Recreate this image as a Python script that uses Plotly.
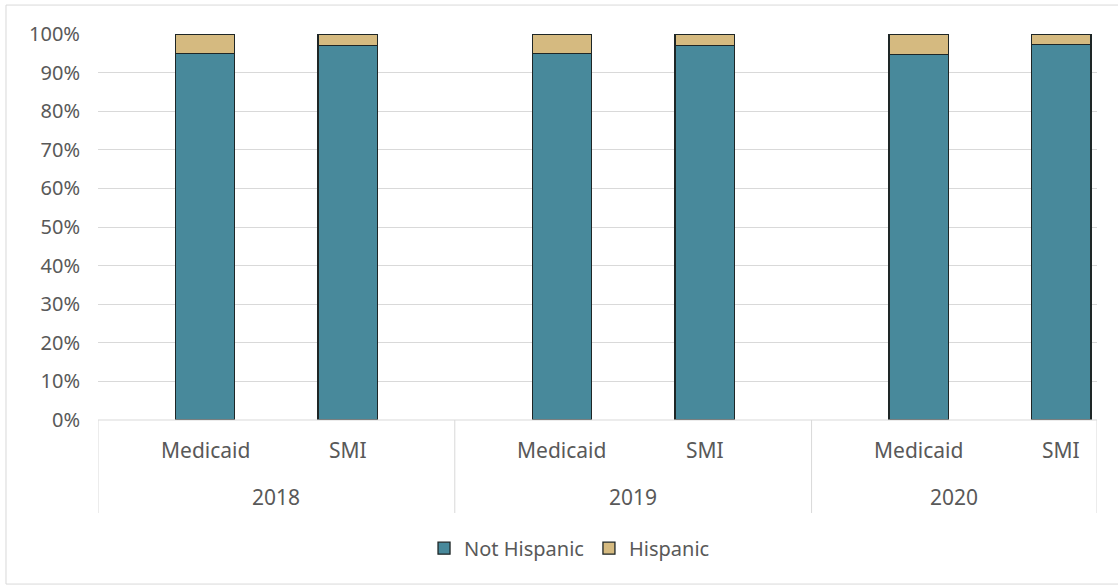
import plotly.graph_objects as go

years = ["2018", "2019", "2020"]
groups = ["Medicaid", "SMI"]
not_hispanic = [0.950, 0.971, 0.950, 0.971, 0.946, 0.972]
hispanic = [round(1 - v, 3) for v in not_hispanic]
y_ticks = [i / 10 for i in range(11)]
y_labels = [f"{i*10}%" for i in range(11)]

# slot layout: each year group = blank, Medicaid, blank, SMI, blank (last group has no trailing blank)
slots_per_group = 5
xpos = []
for gi, yr in enumerate(years):
    for ci, g in enumerate(groups):
        xpos.append(gi * slots_per_group + 1.5 + 2 * ci)
x_max = len(years) * slots_per_group - 1

teal = "#48899B"
tan = "#D5BA80"
edge = "#1E2626"
txt = "#595959"
font_family = "Noto Sans, Open Sans, sans-serif"
fs = 20

fig = go.Figure()
fig.add_trace(go.Bar(x=xpos, y=not_hispanic, name="Not Hispanic", width=0.83,
                     marker=dict(color=teal, line=dict(color=edge, width=1.3))))
fig.add_trace(go.Bar(x=xpos, y=hispanic, name="Hispanic", width=0.83,
                     marker=dict(color=tan, line=dict(color=edge, width=1.3))))

annotations = []
for i, x in enumerate(xpos):
    annotations.append(dict(x=x, y=-0.078, xref="x", yref="paper", text=groups[i % 2],
                            yanchor="middle", xanchor="center",
                            showarrow=False, font=dict(size=21, color=txt, family=font_family)))
for gi, yr in enumerate(years):
    x0 = gi * slots_per_group
    x1 = min((gi + 1) * slots_per_group, x_max)
    annotations.append(dict(x=(x0 + x1) / 2, y=-0.199, xref="x", yref="paper", text=yr,
                            yanchor="middle", xanchor="center",
                            showarrow=False, font=dict(size=21, color=txt, family=font_family)))

shapes = []
for xv in [0, 5, 10, x_max]:
    shapes.append(dict(type="line", xref="x", yref="paper", x0=xv, x1=xv, y0=0, y1=-0.241,
                       line=dict(color="#D9D9D9", width=1)))
shapes.append(dict(type="line", xref="x", yref="paper", x0=0, x1=x_max, y0=0, y1=0,
                   line=dict(color="#D9D9D9", width=1)))
shapes.append(dict(type="rect", xref="paper", yref="paper", x0=-0.0921, x1=1.04, y0=-0.425, y1=1.075,
                   line=dict(color="#D9D9D9", width=1)))

fig.update_layout(
    barmode="stack",
    width=1118, height=586,
    margin=dict(l=98, r=21, t=34, b=166),
    plot_bgcolor="white", paper_bgcolor="white",
    font=dict(family=font_family, color=txt, size=fs),
    xaxis=dict(range=[0, x_max], showticklabels=False, showgrid=False, zeroline=False, ticks=""),
    yaxis=dict(range=[0, 1], tickvals=y_ticks, ticktext=y_labels, showgrid=True,
               gridcolor="#D9D9D9", gridwidth=1, zeroline=False, ticks="", ticklen=0,
               ticklabelstandoff=17,
               tickfont=dict(size=fs, color=txt), automargin=False),
    legend=dict(orientation="h", x=0.472, y=-0.332, xanchor="center", yanchor="middle",
                font=dict(size=fs, color=txt), traceorder="normal", itemwidth=30),
    annotations=annotations,
    shapes=shapes,
    showlegend=True,
)

fig.write_html("out.html", config={"displayModeBar": False},
               post_script="document.body.style.margin='0';")
